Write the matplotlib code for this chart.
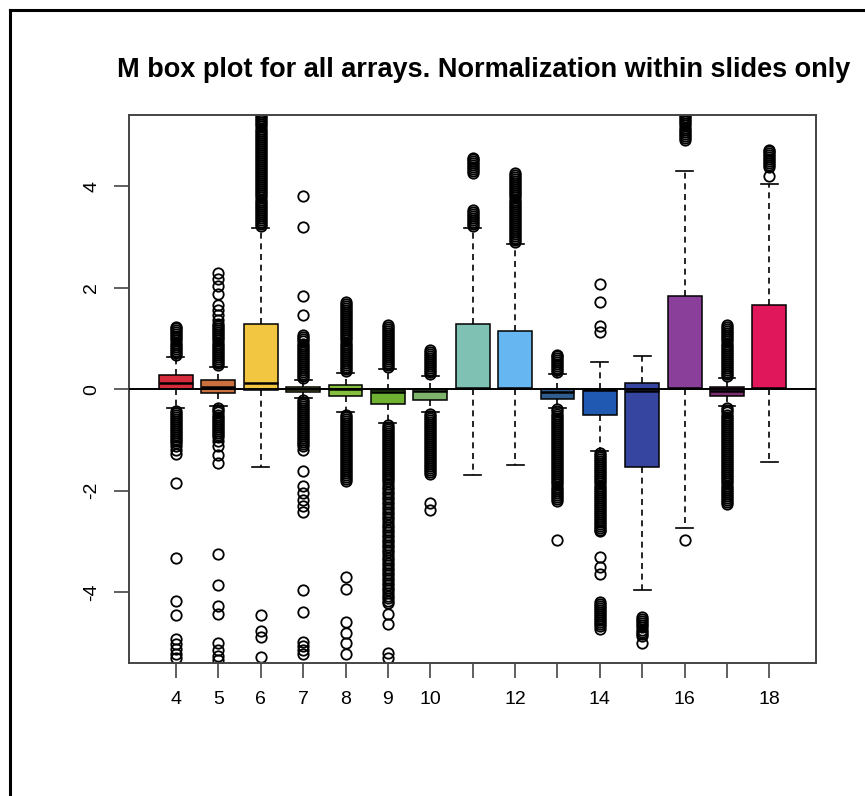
from matplotlib import pyplot as plt
from matplotlib.lines import Line2D

plt.rcParams['font.family'] = ['Liberation Sans', 'DejaVu Sans']

_OUT_FILE = 'out.png'
_TITLE = 'M box plot for all arrays. Normalization within slides only'

# one box per array
positions = [4, 5, 6, 7, 8, 9, 10, 11, 12, 13, 14, 15, 16, 17, 18]
tick_labels = ['4', '5', '6', '7', '8', '9', '10', '', '12', '', '14', '', '16', '', '18']

q1 = [0.0, -0.07, -0.01, -0.06, -0.13, -0.29, -0.22, 0.0, 0.0, -0.19, -0.51, -1.54, 0.0, -0.13, 0.0]
medians = [0.12, 0.05, 0.12, 0.0, 0.0, -0.06, -0.04, 0.03, 0.02, -0.05, -0.02, -0.04, 0.03, -0.04, 0.03]
q3 = [0.28, 0.18, 1.28, 0.04, 0.08, -0.01, 0.01, 1.29, 1.15, 0.0, 0.0, 0.12, 1.84, 0.04, 1.66]
whisker_low = [-0.38, -0.34, -1.54, -0.17, -0.45, -0.66, -0.45, -1.69, -1.5, -0.37, -1.22, -3.96, -2.74, -0.34, -1.43]
whisker_high = [0.63, 0.43, 3.17, 0.18, 0.32, 0.39, 0.26, 3.17, 2.86, 0.29, 0.54, 0.65, 4.3, 0.22, 4.05]

out_4 = [0.68, 0.72, 0.76, 0.8, 0.84, 0.88, 0.92, 0.96, 1.0, 1.04, 1.08, 1.12, 1.16, 1.2, 1.22,
         -0.43, -0.47, -0.51, -0.55, -0.59, -0.63, -0.67, -0.71, -0.75, -0.79, -0.83, -0.87, -0.91,
         -0.95, -0.99, -1.03, -1.07, -1.13, -1.2, -1.28,
         -1.85, -3.33, -4.18, -4.45, -4.92, -5.02, -5.12, -5.22, -5.3]
out_5 = [0.48, 0.52, 0.56, 0.6, 0.64, 0.68, 0.72, 0.76, 0.8, 0.84, 0.88, 0.92, 0.96, 1.0, 1.04,
         1.08, 1.12, 1.16, 1.2, 1.24, 1.28,
         1.36, 1.46, 1.56, 1.66, 1.87, 2.03, 2.18, 2.3,
         -0.38, -0.42, -0.46, -0.5, -0.54, -0.58, -0.62, -0.66, -0.7, -0.74, -0.78, -0.82, -0.86,
         -0.9, -0.94, -1.02, -1.12, -1.3, -1.45,
         -3.26, -3.86, -4.28, -4.43, -5.0, -5.15, -5.26, -5.34]
out_6 = [3.22, 3.26, 3.3, 3.34, 3.38, 3.42, 3.46, 3.5, 3.54, 3.58, 3.62, 3.66, 3.7, 3.74, 3.78,
         3.82, 3.86, 3.9, 3.94, 3.98, 4.02, 4.06, 4.1, 4.14, 4.18, 4.22, 4.26, 4.3, 4.34, 4.38,
         4.42, 4.46, 4.5, 4.54, 4.58, 4.62, 4.66, 4.7, 4.74, 4.78, 4.82, 4.86, 4.9, 4.94, 4.98,
         5.02, 5.06, 5.1, 5.14, 5.18, 5.22, 5.26, 5.3, 5.34, 5.38, 5.42, 5.46,
         -4.45, -4.77, -4.88, -5.28]
out_7 = [0.22, 0.26, 0.3, 0.34, 0.38, 0.42, 0.46, 0.5, 0.54, 0.58, 0.62, 0.66, 0.7, 0.74, 0.78,
         0.82, 0.86, 0.9, 0.94, 0.98, 1.02, 1.06,
         1.46, 1.83, 3.2, 3.81,
         -0.21, -0.25, -0.29, -0.33, -0.37, -0.41, -0.45, -0.49, -0.53, -0.57, -0.61, -0.65, -0.69,
         -0.73, -0.77, -0.81, -0.85, -0.89, -0.93, -0.97, -1.01, -1.05, -1.09, -1.13, -1.19,
         -1.62, -1.9, -2.05, -2.18, -2.3, -2.42, -3.96, -4.39, -4.98, -5.06, -5.14, -5.22]
out_8 = [0.36, 0.4, 0.44, 0.48, 0.52, 0.56, 0.6, 0.64, 0.68, 0.72, 0.76, 0.8, 0.84, 0.88, 0.92,
         0.96, 1.0, 1.04, 1.08, 1.12, 1.16, 1.2, 1.24, 1.28, 1.32, 1.36, 1.4, 1.44, 1.48, 1.52,
         1.56, 1.6, 1.64, 1.68, 1.72,
         -0.5, -0.54, -0.58, -0.62, -0.66, -0.7, -0.74, -0.78, -0.82, -0.86, -0.9, -0.94, -0.98,
         -1.02, -1.06, -1.1, -1.14, -1.18, -1.22, -1.26, -1.3, -1.34, -1.38, -1.42, -1.46, -1.5,
         -1.54, -1.58, -1.62, -1.66, -1.7, -1.74, -1.78, -1.82,
         -3.7, -3.94, -4.6, -4.8, -5.0, -5.22]
out_9 = [0.43, 0.47, 0.51, 0.55, 0.59, 0.63, 0.67, 0.71, 0.75, 0.79, 0.83, 0.87, 0.91, 0.95, 0.99,
         1.03, 1.07, 1.11, 1.15, 1.19, 1.23, 1.27,
         -0.7, -0.74, -0.78, -0.82, -0.86, -0.9, -0.94, -0.98, -1.02, -1.06, -1.1, -1.14, -1.18,
         -1.22, -1.26, -1.3, -1.34, -1.38, -1.42, -1.46, -1.5, -1.54, -1.58, -1.62, -1.66, -1.7,
         -1.74, -1.78, -1.82,
         -1.87, -1.92, -1.97, -2.02, -2.07, -2.12, -2.17, -2.22, -2.27, -2.32, -2.37, -2.42, -2.47,
         -2.52, -2.57, -2.62, -2.67, -2.72, -2.77, -2.82, -2.87, -2.92, -2.97, -3.02, -3.07, -3.12,
         -3.17, -3.22, -3.27, -3.32, -3.37, -3.42, -3.47, -3.52, -3.57, -3.62, -3.67, -3.72, -3.77,
         -3.82, -3.87, -3.92, -3.97, -4.02, -4.07, -4.12, -4.17, -4.22,
         -4.43, -4.63, -5.2, -5.3]
out_10 = [0.3, 0.34, 0.38, 0.42, 0.46, 0.5, 0.54, 0.58, 0.62, 0.66, 0.7, 0.74, 0.77,
          -0.48, -0.52, -0.56, -0.6, -0.64, -0.68, -0.72, -0.76, -0.8, -0.84, -0.88, -0.92, -0.96,
          -1.0, -1.04, -1.08, -1.12, -1.16, -1.2, -1.24, -1.28, -1.32, -1.36, -1.4, -1.44, -1.48,
          -1.52, -1.56, -1.6, -1.64, -1.67,
          -2.25, -2.38]
out_11 = [3.22, 3.26, 3.3, 3.34, 3.38, 3.42, 3.46, 3.5, 3.54,
          4.26, 4.3, 4.34, 4.38, 4.42, 4.46, 4.5, 4.54, 4.56]
out_12 = [2.9, 2.94, 2.98, 3.02, 3.06, 3.1, 3.14, 3.18, 3.22, 3.26, 3.3, 3.34, 3.38, 3.42, 3.46,
          3.5, 3.54, 3.58, 3.62, 3.66, 3.7, 3.74, 3.78, 3.82, 3.86, 3.9, 3.94, 3.98, 4.02, 4.06,
          4.1, 4.14, 4.18, 4.22, 4.26]
out_13 = [0.33, 0.37, 0.41, 0.45, 0.49, 0.53, 0.57, 0.61, 0.65, 0.67,
          -0.4, -0.44, -0.48, -0.52, -0.56, -0.6, -0.64, -0.68, -0.72, -0.76, -0.8, -0.84, -0.88,
          -0.92, -0.96, -1.0, -1.04, -1.08, -1.12, -1.16, -1.2, -1.24, -1.28, -1.32, -1.36, -1.4,
          -1.44, -1.48, -1.52, -1.56, -1.6, -1.64, -1.68, -1.72, -1.76, -1.8, -1.84, -1.88, -1.92,
          -1.96, -2.0, -2.04, -2.08, -2.12, -2.16, -2.2,
          -2.98]
out_14 = [1.12, 1.25, 1.72, 2.08,
          -1.26, -1.3, -1.34, -1.38, -1.42, -1.46, -1.5, -1.54, -1.58, -1.62, -1.66, -1.7, -1.74,
          -1.78, -1.82, -1.86, -1.9, -1.94, -1.98, -2.02, -2.06, -2.1, -2.14, -2.18, -2.22, -2.26,
          -2.3, -2.34, -2.38, -2.42, -2.46, -2.5, -2.54, -2.58, -2.62, -2.66, -2.7, -2.74, -2.78,
          -2.8,
          -3.3, -3.5, -3.65,
          -4.2, -4.24, -4.28, -4.32, -4.36, -4.4, -4.44, -4.48, -4.52, -4.56, -4.6, -4.64, -4.68,
          -4.72]
out_15 = [-4.5, -4.54, -4.58, -4.62, -4.66, -4.7, -4.74, -4.78, -4.82, -4.86, -5.0]
out_16 = [4.92, 4.96, 5.0, 5.04, 5.08, 5.12, 5.16, 5.2, 5.24, 5.28, 5.32, 5.36, 5.4, 5.44, -2.98]
out_17 = [0.26, 0.3, 0.34, 0.38, 0.42, 0.46, 0.5, 0.54, 0.58, 0.62, 0.66, 0.7, 0.74, 0.78, 0.82,
          0.86, 0.9, 0.94, 0.98, 1.02, 1.06, 1.1, 1.14, 1.18, 1.22, 1.27,
          -0.38, -0.42, -0.46, -0.5, -0.54, -0.58, -0.62, -0.66, -0.7, -0.74, -0.78, -0.82, -0.86,
          -0.9, -0.94, -0.98, -1.02, -1.06, -1.1, -1.14, -1.18, -1.22, -1.26, -1.3, -1.34, -1.38,
          -1.42, -1.46, -1.5, -1.54, -1.58, -1.62, -1.66, -1.7, -1.74, -1.78, -1.82, -1.86, -1.9,
          -1.94, -1.98, -2.02, -2.06, -2.1, -2.14, -2.18, -2.22, -2.27]
out_18 = [4.2, 4.38, 4.42, 4.46, 4.5, 4.54, 4.58, 4.62, 4.66, 4.7, 4.72]

outliers = [out_4, out_5, out_6, out_7, out_8, out_9, out_10, out_11,
            out_12, out_13, out_14, out_15, out_16, out_17, out_18]

box_colors = ['#D62B3B', '#C9703E', '#F2C641', '#A3B550', '#86BF3E', '#6FB231', '#7DB36A', '#7FC2B3',
              '#66B6F2', '#2F5E8E', '#1F59B2', '#3545A0', '#8A3F9B', '#7D2C6D', '#E1175B']


def build_stats():
    stats = []
    for ii in range(len(positions)):
        stats.append(dict(q1=q1[ii], med=medians[ii], q3=q3[ii],
                          whislo=whisker_low[ii], whishi=whisker_high[ii],
                          fliers=outliers[ii]))
    return stats


def plot_boxes():
    fig = plt.figure(figsize=(8.65, 7.96), dpi=100)
    ax = fig.add_axes([0.1495, 0.1671, 0.7939, 0.6880])

    parts = ax.bxp(build_stats(), positions=positions, widths=0.8, patch_artist=True,
                   boxprops=dict(edgecolor='black', linewidth=1.1),
                   whiskerprops=dict(color='black', linewidth=1.2, linestyle=(0, (3.6, 2.8))),
                   capprops=dict(color='black', linewidth=1.2),
                   medianprops=dict(color='black', linewidth=1.8),
                   flierprops=dict(marker='o', markerfacecolor='none', markeredgecolor='black',
                                   markersize=7.5, markeredgewidth=1.3))
    for box, color in zip(parts['boxes'], box_colors):
        box.set_facecolor(color)

    ax.axhline(0, color='black', linewidth=1.4, zorder=5)

    ax.set_xlim(2.9, 19.1)
    ax.set_ylim(-5.4, 5.4)
    ax.set_xticks(positions)
    ax.set_xticklabels(tick_labels)
    ax.set_yticks([-4, -2, 0, 2, 4])
    ax.set_yticklabels(['-4', '-2', '0', '2', '4'])
    for label in ax.get_yticklabels():
        label.set_rotation(90)
        label.set_va('center')

    for spine in ax.spines.values():
        spine.set_color('#444444')
        spine.set_linewidth(1.4)
    ax.tick_params(axis='both', length=11, width=1.2, color='#444444', labelsize=14)
    ax.tick_params(axis='x', pad=9)
    ax.tick_params(axis='y', pad=10)

    fig.text(0.5595, 0.912, _TITLE, ha='center', va='center', fontsize=19.5, fontweight='bold')

    # frame drawn along the top and left edges of the figure
    fx = 10 / 865
    fy = 1 - 10 / 796
    fig.add_artist(Line2D([fx, fx], [0, fy], color='black', linewidth=2.2))
    fig.add_artist(Line2D([fx, 1], [fy, fy], color='black', linewidth=2.2))

    fig.savefig(_OUT_FILE, dpi=100)


if __name__ == '__main__':
    plot_boxes()
